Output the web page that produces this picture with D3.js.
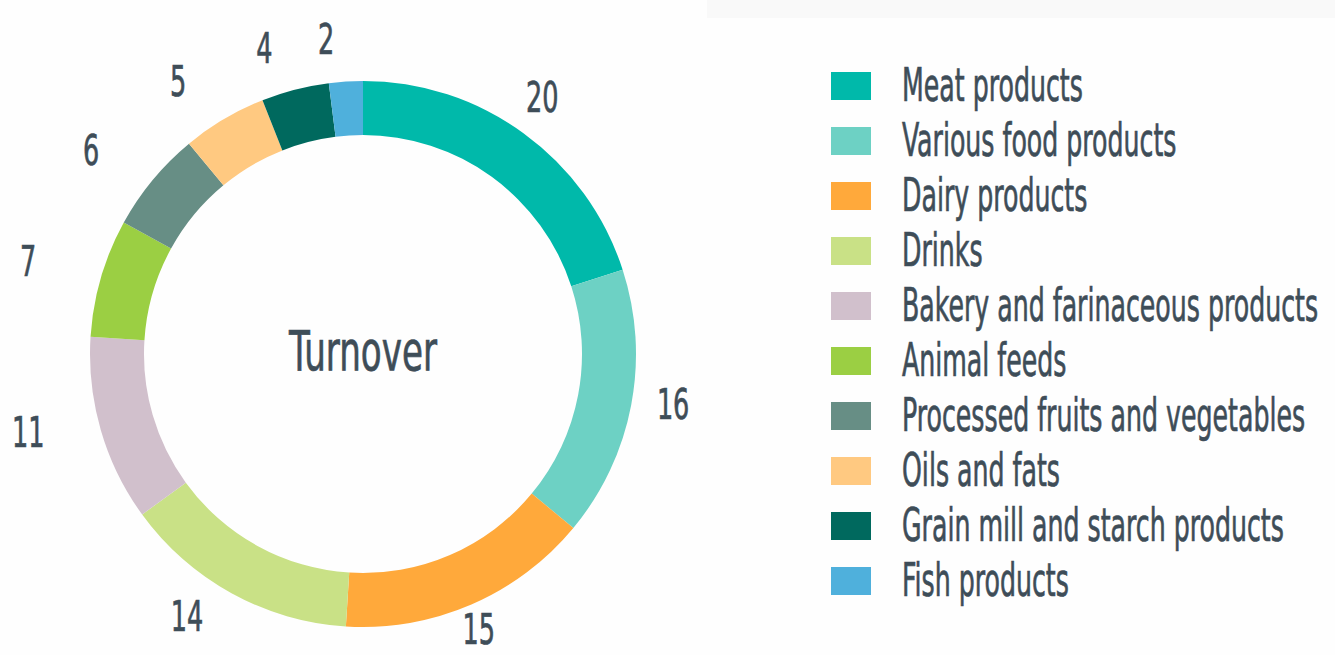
<!DOCTYPE html>
<html>
<head>
<meta charset="utf-8">
<script src="https://cdn.jsdelivr.net/npm/d3@7"></script>
<style>
  body { margin: 0; background: #fefefe; }
  text {
    font-family: "DejaVu Sans Condensed", "DejaVu Sans", sans-serif;
    fill: #3e4d58;
    stroke: #3e4d58;
    stroke-width: 0.7px;
  }
</style>
</head>
<body>
<svg id="chart"></svg>
<script>
// Turnover share by sector (%)
const categories = [
    "Meat products",
    "Various food products",
    "Dairy products",
    "Drinks",
    "Bakery and farinaceous products",
    "Animal feeds",
    "Processed fruits and vegetables",
    "Oils and fats",
    "Grain mill and starch products",
    "Fish products"
];
const values = [20, 16, 15, 14, 11, 7, 6, 5, 4, 2];
const colors = ["#00b9aa", "#6dd1c4", "#ffa93b", "#c9e186", "#d1c0cc",
                "#9bcf43", "#678e85", "#ffc981", "#00695e", "#4fb0dc"];

const width = 1335;
const height = 655;
const cx = 363, cy = 354;       // ring centre
const outerR = 273, innerR = 219;

// value labels sit on a slightly squashed ellipse, a bit left of the ring centre
const labelRx = 332, labelRy = 308;
const labelDx = -16, labelDy = -8;

// the original font is a tall condensed face, so squeeze the glyphs horizontally
const squeeze = { label: 0.66, title: 0.69, legend: 0.61 };

const svg = d3.select("#chart")
    .attr("width", width)
    .attr("height", height);

// faint band at the top right
svg.append("rect")
    .attr("x", 707).attr("y", 0)
    .attr("width", width - 707).attr("height", 18)
    .attr("fill", "#f9f9f9");

const data = categories.map((c, i) => ({ name: c, value: values[i], color: colors[i] }));

const pie = d3.pie().sort(null).value(d => d.value);
const arc = d3.arc().innerRadius(innerR).outerRadius(outerR);
const unitArc = d3.arc().innerRadius(1).outerRadius(1);

const ring = svg.append("g")
    .attr("transform", `translate(${cx},${cy})`);

const slices = pie(data);

ring.selectAll("path")
    .data(slices)
    .enter()
    .append("path")
    .attr("d", arc)
    .attr("fill", d => d.data.color);

// value labels outside the ring
ring.selectAll(".value-label")
    .data(slices)
    .enter()
    .append("text")
    .attr("class", "value-label")
    .attr("transform", d => {
        const [ux, uy] = unitArc.centroid(d);
        const x = ux * labelRx + labelDx;
        const y = uy * labelRy + labelDy;
        return `translate(${x},${y + 15.5}) scale(${squeeze.label},1)`;
    })
    .attr("text-anchor", "middle")
    .style("font-size", "43px")
    .text(d => d.data.value);

// centre title
ring.append("text")
    .attr("transform", `translate(0,16) scale(${squeeze.title},1)`)
    .attr("text-anchor", "middle")
    .style("font-size", "55px")
    .text("Turnover");

// legend
const legendY = d3.scalePoint()
    .domain(categories)
    .range([86, 581]);

const rows = svg.append("g")
    .selectAll(".legend-row")
    .data(data)
    .enter()
    .append("g")
    .attr("class", "legend-row")
    .attr("transform", d => `translate(831,${legendY(d.name)})`);

rows.append("rect")
    .attr("x", 0)
    .attr("y", -14)
    .attr("width", 40)
    .attr("height", 28)
    .attr("fill", d => d.color);

rows.append("text")
    .attr("transform", `translate(71,15) scale(${squeeze.legend},1)`)
    .style("font-size", "46px")
    .text(d => d.name);
</script>
</body>
</html>
